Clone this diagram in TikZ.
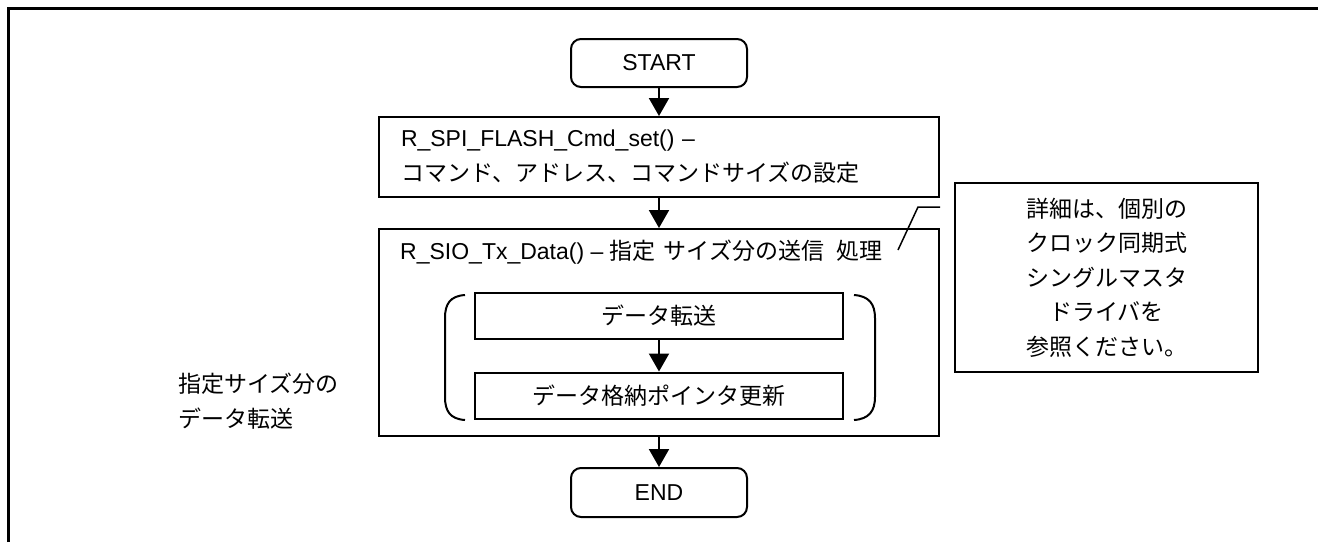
\documentclass[tikz,border=0pt]{standalone}
\usepackage{fontspec}
\setmainfont{Liberation Sans}
\newfontfamily\jp{Noto Sans CJK JP}
\usetikzlibrary{arrows.meta}

\begin{document}
\begin{tikzpicture}[x=1pt,y=-1pt,every node/.style={font=\fontsize{23}{35}\selectfont}]
   \tikzstyle{term}=[draw,line width=2pt,rounded corners=10pt,minimum width=176pt,minimum height=48pt,inner sep=0pt]
   \tikzstyle{proc}=[draw,line width=2pt,minimum width=560pt,inner sep=0pt]
   \tikzstyle{subproc}=[draw,line width=2pt,minimum width=368pt,minimum height=46pt,inner sep=0pt]
   \tikzstyle{plain}=[inner sep=0pt]
   \tikzstyle{arrow}=[line width=2pt,draw,-{Triangle[width=20pt,length=18pt]}]
   \useasboundingbox (0,0) rectangle (1318,542);
   % frame
   \draw [line width=3pt] (8,542) -- (8,8) -- (1318,8) ;
   % main flow
   \node (start) [term] at (659,63) {START} ;
   \node (cmd) [proc,minimum height=80pt,inner xsep=22pt,text width=516pt,align=left,below of=start,node distance=94pt] {R\_SPI\_FLASH\_Cmd\_set() –\\{\jp コマンド、アドレス、コマンドサイズの設定}} ;
   \node (tx) [proc,minimum height=207pt,below of=cmd,node distance=175.5pt] {} ;
   \node (txlbl) [plain,anchor=west] at (400,252) {R\_SIO\_Tx\_Data() – {\jp 指定\hspace{8pt}サイズ分の送信\hspace{12pt}処理}} ;
   \node (xfer) [subproc] at (659,316) {\jp データ転送} ;
   \node (upd) [subproc,below of=xfer,node distance=79.5pt] {\jp データ格納ポインタ更新} ;
   \node (end) [term,minimum height=49pt,below of=tx,node distance=160pt] {END} ;
   \path [arrow] (start) -- (cmd) ;
   \path [arrow] (cmd) -- (tx) ;
   \path [arrow] (xfer) -- (upd) ;
   \path [arrow] (tx) -- (end) ;
   % loop brackets
   \draw [line width=2pt] (465,295) .. controls (450,296) and (445,304) .. (445,318) -- (445,397) .. controls (445,411) and (450,419) .. (465,420) ;
   \draw [line width=2pt] (854,295) .. controls (869,296) and (875,304) .. (875,318) -- (875,397) .. controls (875,411) and (869,419) .. (854,420) ;
   \node (looplbl) [plain,anchor=west,align=left] at (178,401.5) {\jp 指定サイズ分の\\\jp データ転送} ;
   % note
   \node (note) [draw,line width=2pt,minimum width=303pt,minimum height=189pt,inner sep=0pt,align=center,font=\fontsize{23}{34.5}\selectfont\jp] at (1106.5,277.5) {詳細は、個別の\\クロック同期式\\シングルマスタ\\ドライバを\\参照ください。} ;
   \coordinate (cstart) at (898,250) ;
   \coordinate (cbend) at (918,207) ;
   \coordinate (cend) at (940,207) ;
   \draw [line width=1.5pt] (cstart) -- (cbend) -- (cend) ;
\end{tikzpicture}
\end{document}
